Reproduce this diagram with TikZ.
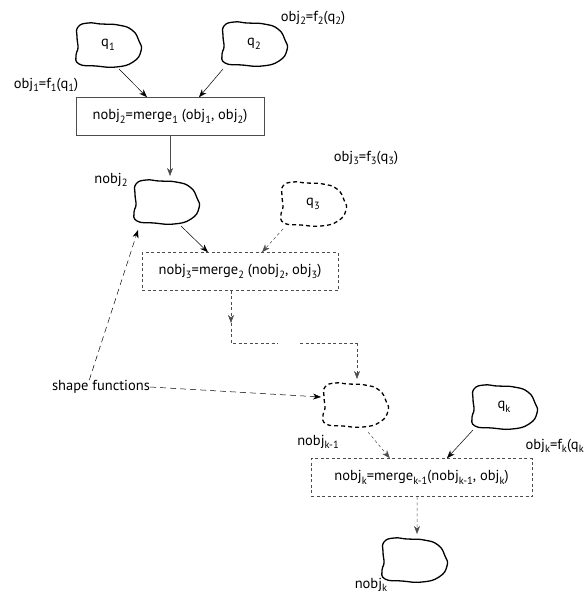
\documentclass[tikz,border=0pt]{standalone}
\usepackage{fontspec}
\setmainfont{PT Sans}
\usetikzlibrary{calc,arrows.meta}
\newcommand\lo[1]{\raisebox{-0.5ex}{\fontsize{10.5}{12}\selectfont #1}}
\tikzstyle{arrow} = [-{Stealth[length=8pt,width=6pt,inset=2.5pt]},line width=0.5pt]
\tikzstyle{darrow} = [arrow,gray!60!black,dash pattern=on 3pt off 2.5pt]
\tikzstyle{dline} = [line width=0.5pt,gray!60!black,dash pattern=on 3pt off 2.5pt]
\tikzstyle{sfarrow} = [arrow,dash pattern=on 6pt off 4pt]
\tikzstyle{blob} = [inner sep=0pt]
\tikzstyle{mbox} = [draw,line width=0.6pt,gray!60!black,text=black,minimum height=38pt,inner xsep=1pt]
\tikzstyle{dbox} = [mbox,dash pattern=on 3pt off 2.5pt]
\tikzstyle{lbl} = [inner sep=0pt]
% outline of a shape, drawn round a node
\newcommand\drawblob[2]{\draw[line width=1.3pt,#2,shift={(#1.center)}] plot[smooth cycle,tension=0.85]
  coordinates {(-30,-18) (-20,-22) (-7,-21) (10,-20) (24,-15) (31,-4) (33,6) (25,17) (8,22) (-12,21) (-29,19) (-32,10) (-30,3) (-31,-8)};}

\begin{document}
\begin{tikzpicture}[x=1pt,y=-1pt,font=\fontsize{14.5}{17}\selectfont]
  \useasboundingbox (0,0) rectangle (584,598);

  % shapes
  \node[blob] at (108,45) (q1) {q\lo{1}};
  \node[blob] at (254,44) (q2) {q\lo{2}};
  \node[blob] at (166,202) (nobj2) {};
  \node[blob] at (313,204) (q3) {q\lo{3}};
  \node[blob] at (355,405) (nobjk1) {};
  \node[blob] at (504,407) (qk) {q\lo{k}};
  \node[blob] at (414,560) (nobjk) {};
  \drawblob{q1}{}
  \drawblob{q2}{}
  \drawblob{nobj2}{}
  \drawblob{q3}{dash pattern=on 4pt off 3pt}
  \drawblob{nobjk1}{dash pattern=on 4pt off 3pt}
  \drawblob{qk}{}
  \drawblob{nobjk}{}

  % merge boxes
  \node[mbox,minimum width=188pt] at (170,116.5) (m1) {nobj\lo{2}=merge\lo{1} (obj\lo{1}, obj\lo{2})};
  \node[dbox,minimum width=196pt] at (240,271.5) (m2) {nobj\lo{3}=merge\lo{2} (nobj\lo{2}, obj\lo{3})};
  \node[dbox,minimum width=221pt] at (421.5,477.5) (mk) {nobj\lo{k}=merge\lo{k-1}(nobj\lo{k-1}, obj\lo{k})};

  % labels
  \node[lbl] at (46,85) (l1) {obj\lo{1}=f\lo{1}(q\lo{1})};
  \node[lbl] at (313,18) (l2) {obj\lo{2}=f\lo{2}(q\lo{2})};
  \node[lbl] at (111,180) (ln2) {nobj\lo{2}};
  \node[lbl] at (366,158) (l3) {obj\lo{3}=f\lo{3}(q\lo{3})};
  \node[lbl] at (318,442) (lnk1) {nobj\lo{k-1}};
  \node[lbl,anchor=east] at (584,446) (lk) {obj\lo{k}=f\lo{k}(q\lo{k}};
  \node[lbl] at (371,585) (lnk) {nobj\lo{k}};
  \node[lbl] at (101,387) (sf) {shape functions};

  % connectors
  \draw[arrow] ($(q1)+(11,24)$) -- ($(m1.north west)!0.378!(m1.north east)$);
  \draw[arrow] ($(q2)+(-31,25)$) -- ($(m1.north west)!0.654!(m1.north east)$);
  \draw[arrow,gray!60!black] (m1.south) -- ($(nobj2)+(4,-26)$);
  \draw[arrow] ($(nobj2)+(15,24)$) -- ($(m2.north west)!0.337!(m2.north east)$);
  \draw[darrow] ($(q3)+(-30,25)$) -- ($(m2.north west)!0.612!(m2.north east)$);

  \coordinate (c1) at (231,343);
  \coordinate (g1) at (278,343);
  \coordinate (g2) at (300,343);
  \coordinate (c2) at (357,343);
  \draw[darrow] (c1 |- m2.south) -- ($(c1)+(0,-20)$);
  \draw[dline] ($(c1)+(0,-20)$) -- (c1) -- (g1);
  \draw[dline] (g2) -- (c2);
  \draw[darrow] (c2) -- ($(nobjk1)+(2,-26)$);

  \draw[darrow] ($(nobjk1)+(13,27)$) -- ($(mk.north west)!0.357!(mk.north east)$);
  \draw[arrow] ($(qk)+(-31,23)$) -- ($(mk.north west)!0.615!(mk.north east)$);
  \draw[darrow] ($(mk.south west)!0.48!(mk.south east)$) -- ($(nobjk)+(3,-26)$);

  \draw[sfarrow] ($(sf.north west)!0.38!(sf.north east)$) -- ($(nobj2)+(-28,28)$);
  \draw[sfarrow] (sf.east) -- ($(nobjk1)+(-34,-8)$);
\end{tikzpicture}
\end{document}
